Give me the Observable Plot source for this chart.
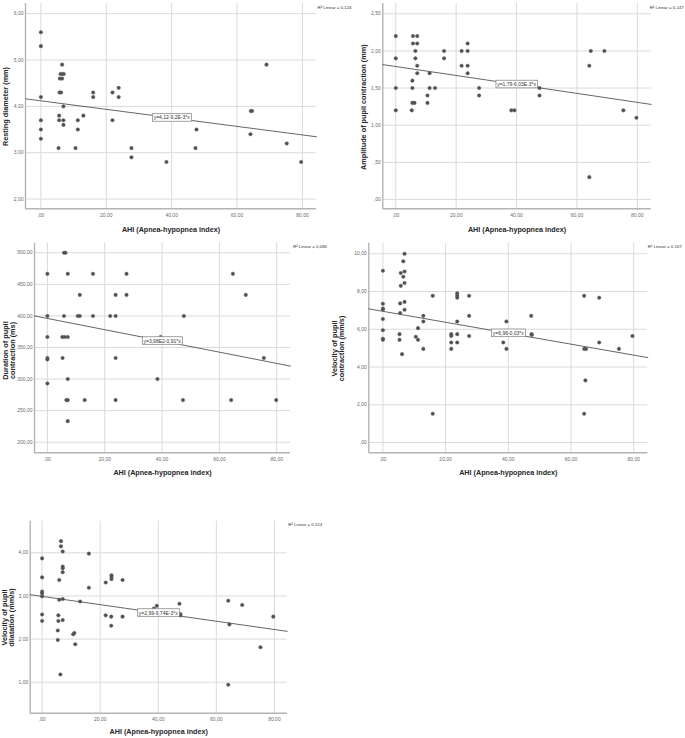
<!DOCTYPE html>
<html><head><meta charset="utf-8">
<script src="https://cdn.jsdelivr.net/npm/d3@7"></script>
<script src="https://cdn.jsdelivr.net/npm/@observablehq/plot@0.6"></script>
<style>
body{margin:0;background:#fff;}
#wrap{position:relative;width:685px;height:738px;font-family:"Liberation Sans",Arial,sans-serif;}
#wrap svg{position:absolute;}
</style></head><body><div id="wrap"></div>
<script>
// ---------- shared ----------
const xTicks = [0, 20, 40, 60, 80];
const xTitle = "AHI (Apnea-hypopnea index)";

// ---------- panel 1: resting diameter ----------
const ahi1 = [0,0,0,0,0,0,6.5,6.0,6.5,7.0,5.8,6.5,5.7,6.2,6.9,5.6,5.6,6.9,6.9,5.4,10.6,11.3,11.3,13.0,16.0,16.0,21.9,21.9,23.8,23.8,27.7,27.7,38.4,47.6,47.3,64.2,64.6,64.1,69.0,75.2,79.6];
const restingDiameter = [5.6,5.3,4.2,3.7,3.5,3.3,4.9,4.7,4.7,4.7,4.6,4.6,4.3,4.3,4.0,3.8,3.7,3.7,3.6,3.1,3.1,3.7,3.5,3.8,4.3,4.2,4.3,3.7,4.4,4.2,3.1,2.9,2.8,3.5,3.1,3.9,3.9,3.4,4.9,3.2,2.8];
const yTicks1 = [2, 3, 4, 5, 6];

// ---------- panel 2: amplitude of pupil contraction ----------
const ahi2 = [0,0,0,0,5.7,7.1,5.7,7.1,6.5,6.5,7.1,7.1,5.5,5.5,5.5,6.2,5.3,10.5,10.5,11.2,11.2,13.0,16.0,16.0,21.8,21.8,23.8,23.8,23.8,23.8,27.6,27.6,38.3,39.3,47.6,47.6,64.1,64.6,69.1,64.1,75.4,79.7];
const amplitude = [2.2,1.9,1.5,1.2,2.2,2.2,2.1,2.1,2.0,1.9,1.8,1.7,1.6,1.5,1.3,1.3,1.2,1.4,1.3,1.7,1.5,1.5,2.0,1.9,2.0,1.8,2.1,2.0,1.8,1.7,1.5,1.4,1.2,1.2,1.5,1.4,1.8,2.0,2.0,0.3,1.2,1.1];
const yTicks2 = [0, 0.5, 1, 1.5, 2, 2.5];

// ---------- panel 3: duration of pupil contraction ----------
const ahi3 = [0,0,0,0,0,0,5.8,6.3,7.1,11.3,5.8,10.6,11.3,15.9,15.9,5.2,6.0,7.1,5.3,7.1,6.6,7.1,7.1,13.0,21.9,23.8,23.8,23.8,23.8,27.6,27.6,38.4,39.5,47.6,47.3,64.7,64.1,69.2,75.5,79.8];
const duration = [466.67,400,366.67,333.33,331,293,500,500,466.67,433.33,400,400,400,400,466.67,366.67,366.67,366.67,333.33,300,266.67,266.67,233.33,266.67,400,400,433.33,333.33,266.67,466.67,433.33,300,366.67,400,266.67,466.67,266.67,433.33,333.33,266.67];
const yTicks3 = [200, 250, 300, 350, 400, 450, 500];

// ---------- panel 4: velocity of pupil contraction ----------
const ahi4 = [0,0,0,0,0,0,0,0,6.9,6.5,5.7,6.9,6.5,6.9,5.7,6.9,5.5,6.9,5.5,5.3,5.3,6.1,10.5,11.2,11.2,12.9,12.9,12.9,15.9,15.9,21.8,21.8,21.8,21.8,23.7,23.7,23.7,23.7,23.7,23.7,27.5,27.5,27.5,38.4,39.4,39.4,47.3,47.4,47.5,64.2,64.2,64.8,64.6,64.2,69,69,75.3,79.6];
const velContraction = [9.10,7.35,7.10,7.05,6.54,5.95,5.50,5.44,10.0,9.6,8.98,9.06,8.78,8.45,8.30,7.45,7.37,7.03,6.86,5.74,5.44,4.68,5.6,6.06,5.44,6.71,6.41,4.96,7.77,1.52,5.74,5.64,5.30,4.96,7.9,7.77,7.67,6.41,5.74,5.30,7.77,6.71,5.64,5.30,6.41,4.96,6.71,5.74,5.70,7.77,4.96,4.96,3.29,1.52,7.67,5.30,4.96,5.64];
const yTicks4 = [0, 2, 4, 6, 8, 10];

// ---------- panel 5: velocity of pupil dilatation ----------
const ahi5 = [0,0,0,0,0,0,0,6.5,6.5,7.1,7.1,7.1,7.1,5.9,5.9,7.1,5.6,5.6,7.1,5.4,5.4,6.3,10.7,11.1,11.4,13.1,16.1,16.1,21.9,21.9,23.9,23.9,23.9,23.8,23.8,27.7,27.7,38.5,39.5,47.3,47.6,47.6,64.1,64.5,64.1,68.9,75.2,79.6];
const velDilatation = [3.87,3.43,3.10,3.06,2.99,2.57,2.42,4.27,4.15,4.03,3.68,3.64,3.55,3.37,2.91,2.93,2.55,2.42,2.44,2.20,1.98,1.18,2.11,2.14,1.88,2.87,3.98,3.19,3.31,2.55,3.48,3.44,3.39,2.52,2.31,3.37,2.52,2.71,2.77,2.82,2.58,2.55,2.89,2.34,0.94,2.79,1.81,2.52];
const yTicks5 = [1, 2, 3, 4];

// ---------- fit lines (intercept, slope) and labels ----------
const fitIntercept = [4.12, 1.79, 396, 6.95, 2.99];
const fitSlope = [-0.0092, -0.00603, -0.89, -0.029, -0.00961];
const fitLabels = ["y=4,12-9,2E-3*x", "y=1,79-6,03E-3*x", "y=3,98E2-0,91*x", "y=6,96-0,03*x", "y=2,99-9,74E-3*x"];
const r2Labels = ["R² Linear = 0,124", "R² Linear = 0,147", "R² Linear = 0,080", "R² Linear = 0,167", "R² Linear = 0,124"];
const yTitles = ["Resting diameter (mm)", "Amplitude of pupil contraction (mm)", "Duration of pupil\ncontraction (ms)", "Velocity of pupil\ncontraction (mm/s)", "Velocity of pupil\ndilatation (mm/s)"];

function fmt(d) {
  let s = d.toFixed(2).replace(".", ",");
  if (s.startsWith("0,")) s = s.slice(1);
  return s;
}

const panels = [
  {xs: ahi1, ys: restingDiameter, yTicks: yTicks1, left: 0, top: 0, width: 340, height: 240, mL: 25, mR: 24, mT: 3, mB: 31.7,
   xDomain: [-4.7, 84.3], yDomain: [1.79, 6.22], ytx: 5.5, yty: 106, xtDy: 20.7, r2dx: 1, r2dy: 4},
  {xs: ahi2, ys: amplitude, yTicks: yTicks2, left: 340, top: 0, width: 345, height: 240, mL: 42.3, mR: 34.3, mT: 3, mB: 31.7,
   xDomain: [-4.3, 84.6], yDomain: [-0.126, 2.639], ytx: 23.5, yty: 106.7, xtDy: 20.7, r2dx: -1.5, r2dy: 3.7},
  {xs: ahi3, ys: duration, yTicks: yTicks3, left: 0, top: 240, width: 340, height: 250, mL: 34, mR: 50, mT: 2.7, mB: 37.7,
   xDomain: [-4.5, 84.8], yDomain: [183.2, 515.2], ytx: 9, yty: 110, xtDy: 19.4, r2dx: 2.5, r2dy: 3.3},
  {xs: ahi4, ys: velContraction, yTicks: yTicks4, left: 340, top: 240, width: 345, height: 250, mL: 28.3, mR: 37.7, mT: 2.7, mB: 37.7,
   xDomain: [-4.5, 84.5], yDomain: [-0.546, 10.56], ytx: -2, yty: 108, xtDy: 19.4, r2dx: 0, r2dy: 3.3},
  {xs: ahi5, ys: velDilatation, yTicks: yTicks5, left: 0, top: 490, width: 340, height: 248, mL: 29.7, mR: 53.3, mT: 30.7, mB: 25.3,
   xDomain: [-4.1, 84.4], yDomain: [0.281, 4.733], ytx: 8, yty: 127, xtDy: 18, r2dx: 1, r2dy: 3.6}
];

const wrap = document.getElementById("wrap");
const eqX = 40;

panels.forEach((p, i) => {
  const n = Math.min(p.xs.length, p.ys.length);
  const data = d3.range(n).map(k => ({x: p.xs[k], y: p.ys[k]}));
  const a = fitIntercept[i], b = fitSlope[i];
  const fit = p.xDomain.map(x => ({x, y: a + b * x}));
  const innerMid = p.mT + (p.height - p.mT - p.mB) / 2;
  const svg = Plot.plot({
    width: p.width, height: p.height,
    marginLeft: p.mL, marginRight: p.mR, marginTop: p.mT, marginBottom: p.mB,
    x: {domain: p.xDomain},
    y: {domain: p.yDomain},
    style: {background: "transparent", overflow: "visible", color: "#6a6a6a",
            fontFamily: "'Liberation Sans', Arial, sans-serif", fontSize: "5px"},
    marks: [
      Plot.gridX(xTicks, {stroke: "#dadada", strokeOpacity: 1, strokeWidth: 1}),
      Plot.gridY(p.yTicks, {stroke: "#dadada", strokeOpacity: 1, strokeWidth: 1}),
      Plot.ruleX([p.xDomain[0]], {stroke: "#b4b4b4", strokeWidth: 1.4}),
      Plot.ruleY([p.yDomain[0]], {stroke: "#b4b4b4", strokeWidth: 1.4}),
      Plot.axisX(xTicks, {tickFormat: fmt, tickSize: 0, tickPadding: 4.2, fontSize: 5, label: null}),
      Plot.axisY(p.yTicks, {tickFormat: fmt, tickSize: 0, tickPadding: 2, fontSize: 5, label: null}),
      Plot.line(fit, {x: "x", y: "y", stroke: "#555", strokeWidth: 0.9}),
      Plot.dot(data, {x: "x", y: "y", r: 1.8, fill: "#4f4f4f", stroke: "#6a6a6a", strokeWidth: 0.4}),
      Plot.text([fitLabels[i]], {x: [eqX], y: [a + b * eqX], text: d => d, fontSize: 5, fill: "#333"}),
      Plot.text([r2Labels[i]], {frameAnchor: "top-right", textAnchor: "start", lineAnchor: "middle", dx: p.r2dx, dy: p.r2dy,
        text: d => d, fontSize: 4.4, fill: "#333"}),
      Plot.text([xTitle], {frameAnchor: "bottom", textAnchor: "middle", lineAnchor: "middle", dy: p.xtDy, text: d => d,
        fontSize: 7.2, fontWeight: "bold", fill: "#262626"}),
      Plot.text([yTitles[i]], {frameAnchor: "left", textAnchor: "middle", lineAnchor: "middle", rotate: -90,
        dx: p.ytx - p.mL, dy: p.yty - innerMid, text: d => d,
        fontSize: 7.3, fontWeight: "bold", fill: "#262626", lineHeight: 0.95})
    ]
  });
  svg.style.left = p.left + "px";
  svg.style.top = p.top + "px";
  wrap.appendChild(svg);
  // box around the regression equation label
  svg.querySelectorAll("text").forEach(t => {
    if (t.textContent.startsWith("y=")) {
      const bb = t.getBBox();
      const rect = document.createElementNS("http://www.w3.org/2000/svg", "rect");
      rect.setAttribute("x", bb.x - 1.2);
      rect.setAttribute("y", bb.y - 0.8);
      rect.setAttribute("width", bb.width + 2.4);
      rect.setAttribute("height", bb.height + 1.6);
      rect.setAttribute("fill", "#fff");
      rect.setAttribute("stroke", "#8a8a8a");
      rect.setAttribute("stroke-width", "0.8");
      const tr = t.getAttribute("transform");
      if (tr) rect.setAttribute("transform", tr);
      t.parentNode.insertBefore(rect, t);
    }
  });
});
</script>
</body></html>
